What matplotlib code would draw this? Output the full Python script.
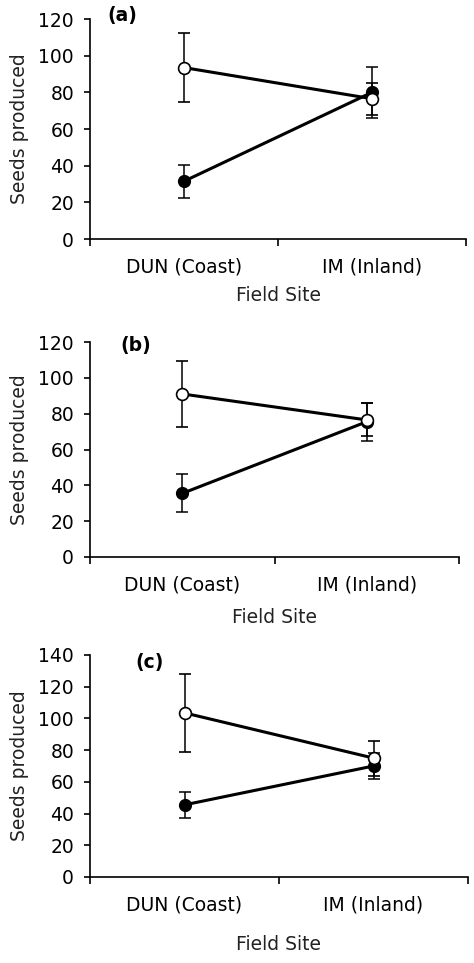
import matplotlib.pyplot as plt
import numpy as np

plt.rcParams["font.family"] = ["DejaVu Sans"]

sites = ["DUN (Coast)", "IM (Inland)"]
panel_tags = ["(a)", "(b)", "(c)"]

# panel (a)
open_a = [93.5, 76.5]
open_err_a = [19.0, 8.8]
filled_a = [31.5, 80.0]
filled_err_a = [9.0, 14.0]

# panel (b)
open_b = [91.0, 76.5]
open_err_b = [18.3, 9.2]
filled_b = [35.5, 75.5]
filled_err_b = [10.6, 10.6]

# panel (c)
open_c = [103.5, 75.0]
open_err_c = [24.5, 11.0]
filled_c = [45.5, 70.0]
filled_err_c = [8.0, 8.0]

ymax = [120, 120, 140]

W, H = 474, 963
fig = plt.figure(figsize=(W / 100, H / 100), dpi=100)


def px_axes(left, right, top, bottom):
    return fig.add_axes([left / W, 1 - bottom / H, (right - left) / W, (bottom - top) / H])


# pixel boxes: left, right, top, bottom
boxes = [(90, 466, 19, 239), (90, 459, 342, 557), (90, 468, 655, 877)]
xlab_pad = [7, 10, 15]
tag_pos = [(0.045, 1.018), (0.081, 0.986), (0.119, 0.968)]

data = [
    (open_a, open_err_a, filled_a, filled_err_a),
    (open_b, open_err_b, filled_b, filled_err_b),
    (open_c, open_err_c, filled_c, filled_err_c),
]

fs = 13.5
x = np.array([0.5, 1.5])
for i, (box, (om, oe, fm, fe)) in enumerate(zip(boxes, data)):
    ax = px_axes(*box)
    ax.errorbar(x, fm, yerr=fe, color="black", lw=2.2, marker="o", ms=8.5,
                mfc="black", mec="black", ecolor="black", elinewidth=1.1,
                capsize=4.5, capthick=1.1, zorder=2)
    ax.errorbar(x, om, yerr=oe, color="black", lw=2.2, marker="o", ms=8.5,
                mfc="white", mec="black", mew=1.2, ecolor="black",
                elinewidth=1.1, capsize=4.5, capthick=1.1, zorder=3)
    ax.set_xlim(0, 2)
    ax.set_ylim(0, ymax[i])
    ax.set_yticks(np.arange(0, ymax[i] + 1, 20))
    ax.set_xticks([0, 1, 2])
    ax.set_xticklabels([])
    ax.set_xticks(x, minor=True)
    ax.set_xticklabels(sites, minor=True)
    ax.tick_params(axis="x", which="minor", length=0, pad=13, labelsize=fs)
    ax.tick_params(axis="x", which="major", length=5, width=1.2, direction="out")
    ax.tick_params(axis="y", length=4.5, width=1.2, direction="out", labelsize=fs, pad=7)
    for s in ["top", "right"]:
        ax.spines[s].set_visible(False)
    for s in ["left", "bottom"]:
        ax.spines[s].set_linewidth(1.2)
    ax.set_ylabel("Seeds produced", fontsize=fs, labelpad=7, color="#222222")
    ax.set_xlabel("Field Site", fontsize=fs, labelpad=xlab_pad[i], color="#222222")
    ax.text(tag_pos[i][0], tag_pos[i][1], panel_tags[i], transform=ax.transAxes,
            fontsize=fs, fontweight="bold", va="center", ha="left")

fig.savefig("out.png", dpi=100)
